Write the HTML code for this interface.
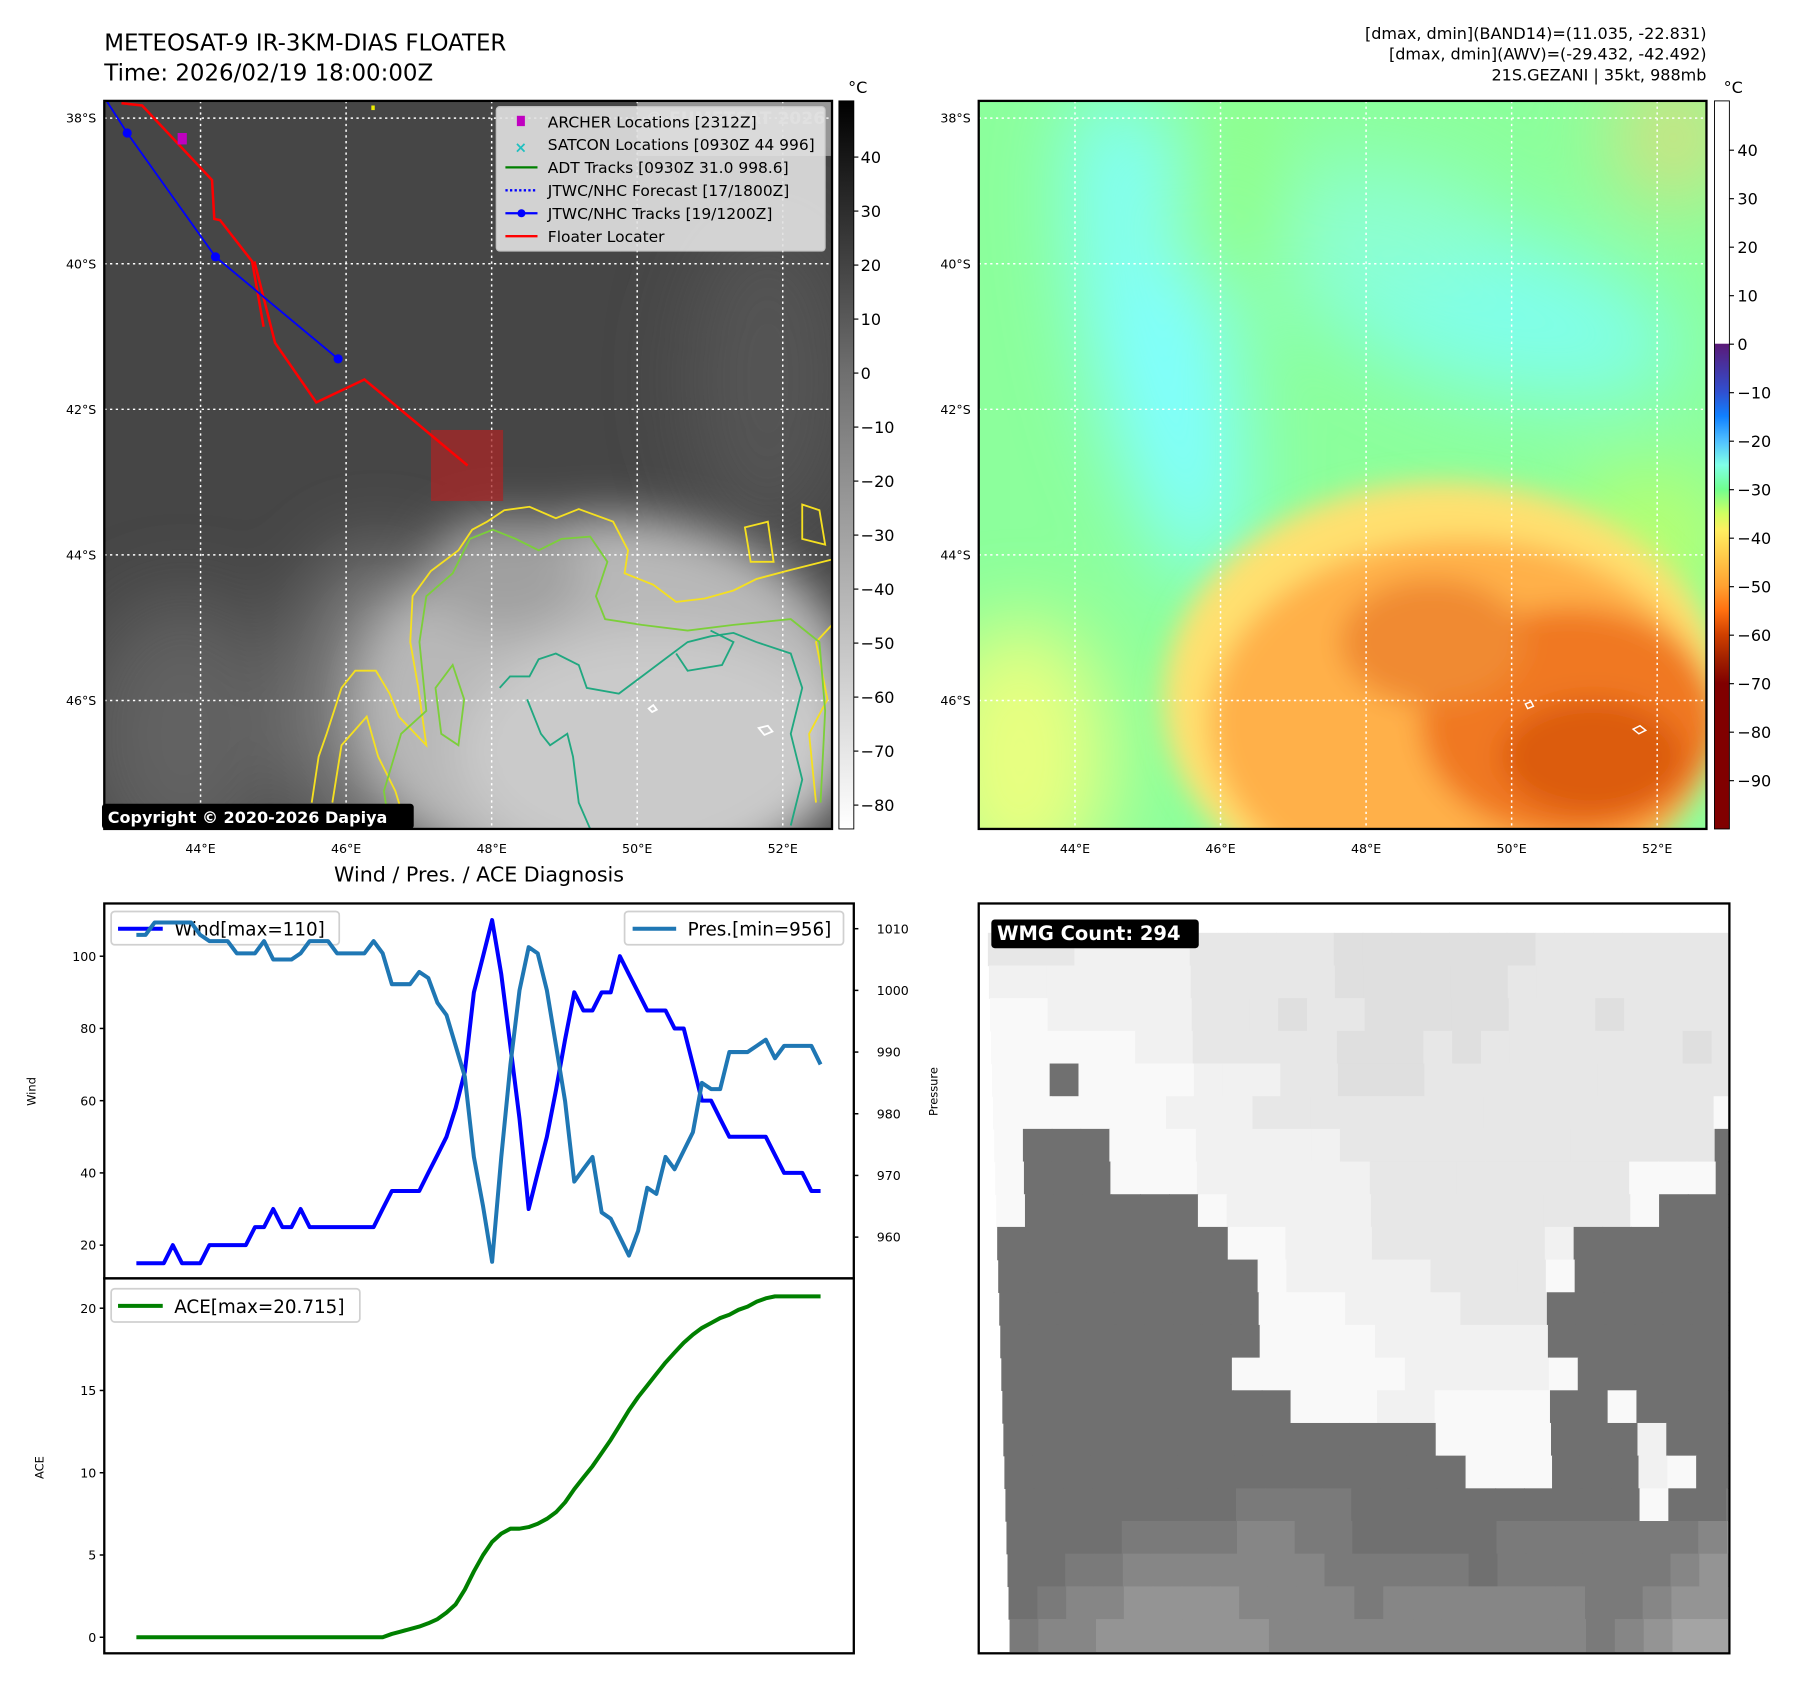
<!DOCTYPE html>
<html><head><meta charset="utf-8"><style>
html,body{margin:0;padding:0;background:#fff;}
svg{display:block;font-family:"DejaVu Sans","Liberation Sans",sans-serif;}
</style></head><body>
<svg id="root" xmlns="http://www.w3.org/2000/svg" width="1797" height="1690" viewBox="0 0 1568 1474" preserveAspectRatio="none">
<defs>
  <filter id="blur12" x="-50%" y="-50%" width="200%" height="200%"><feGaussianBlur stdDeviation="12"/></filter>
  <filter id="blur20" x="-50%" y="-50%" width="200%" height="200%"><feGaussianBlur stdDeviation="20"/></filter>
  <filter id="blur35" x="-50%" y="-50%" width="200%" height="200%"><feGaussianBlur stdDeviation="35"/></filter>
  <clipPath id="c1"><rect x="91" y="88" width="635" height="635"/></clipPath>
  <clipPath id="c2"><rect x="854" y="88" width="635" height="635"/></clipPath>
  <clipPath id="c3"><rect x="855" y="789" width="653" height="652"/></clipPath>
  <linearGradient id="cbGray" x1="0" y1="0" x2="0" y2="1">
    <stop offset="0" stop-color="#000"/><stop offset="0.37" stop-color="#6e6e6e"/><stop offset="1" stop-color="#fff"/>
  </linearGradient>
  <linearGradient id="cbColor" x1="0" y1="0" x2="0" y2="1">
    <stop offset="0" stop-color="#fff"/><stop offset="0.333" stop-color="#fff"/>
    <stop offset="0.334" stop-color="#5a1a78"/><stop offset="0.4" stop-color="#3050d0"/>
    <stop offset="0.433" stop-color="#1080ff"/><stop offset="0.467" stop-color="#50c0ff"/>
    <stop offset="0.5" stop-color="#80ffe8"/><stop offset="0.533" stop-color="#70ff90"/>
    <stop offset="0.567" stop-color="#d0ff60"/><stop offset="0.59" stop-color="#ffee60"/>
    <stop offset="0.667" stop-color="#ffa030"/><stop offset="0.7" stop-color="#ff7010"/>
    <stop offset="0.733" stop-color="#d04000"/><stop offset="0.767" stop-color="#a02000"/>
    <stop offset="0.8" stop-color="#800000"/><stop offset="1" stop-color="#800000"/>
  </linearGradient>
</defs>

<text x="91" y="44" font-size="20">METEOSAT-9 IR-3KM-DIAS FLOATER</text>
<text x="91" y="70" font-size="20">Time: 2026/02/19 18:00:00Z</text>
<g font-size="14" text-anchor="end">
  <text x="1489" y="34">[dmax, dmin](BAND14)=(11.035, -22.831)</text>
  <text x="1489" y="52">[dmax, dmin](AWV)=(-29.432, -42.492)</text>
  <text x="1489" y="70">21S.GEZANI | 35kt, 988mb</text>
</g>

<g clip-path="url(#c1)">
  <rect x="91" y="88" width="635" height="635" fill="#464646"/>
  <g filter="url(#blur35)">
    <ellipse cx="160" cy="640" rx="90" ry="120" fill="#626262"/>
    <ellipse cx="670" cy="330" rx="70" ry="140" fill="#555"/>
    <ellipse cx="330" cy="610" rx="70" ry="130" fill="#848484"/>
  </g>
  <g filter="url(#blur20)">
    <ellipse cx="530" cy="615" rx="220" ry="165" fill="#b8b8b8"/>
    <ellipse cx="570" cy="655" rx="170" ry="105" fill="#cacaca"/>
    <ellipse cx="440" cy="500" rx="70" ry="50" fill="#a0a0a0"/>
  </g>
  <g stroke="#fff" stroke-width="1.3" stroke-dasharray="2,3" fill="none">
    <path d="M175,88V723M302,88V723M429,88V723M556,88V723M683,88V723M91,103H726M91,230H726M91,357H726M91,484H726M91,611H726"/>
  </g>
  <g fill="none" stroke-width="1.6">
    <path stroke="#f5e020" d="M272,700 L278,660 L285,640 L298,600 L310,585 L328,585 L340,605 L348,625 L372,650 L365,600 L358,560 L360,520 L376,498 L400,480 L412,462 L425,455 L440,445 L462,442 L485,452 L505,444 L535,455 L548,480 L545,500 L570,510 L590,525 L615,522 L640,515 L660,505 L690,497 L726,488"/>
    <path stroke="#f5e020" d="M726,545 L712,560 L722,610 L706,640 L712,700 M290,700 L298,650 L320,625 L330,660 L345,690 L355,723 M700,440 L715,445 L720,475 L700,470 Z M650,460 L670,455 L675,490 L655,490 Z"/>
    <path stroke="#7ccf3a" d="M340,723 L335,690 L350,640 L372,620 L366,560 L372,520 L395,500 L410,470 L430,462 L450,470 L470,480 L490,470 L515,468 L530,490 L520,520 L528,540 L560,545 L600,550 L640,545 L690,540 L715,560 L720,620 L716,700 M380,600 L395,580 L405,610 L400,650 L385,640 Z"/>
    <path stroke="#20a880" d="M436,600 L445,590 L462,590 L470,575 L485,570 L505,580 L512,600 L540,605 L560,590 L580,575 L600,560 L620,555 L640,552 L660,560 L690,570 L700,600 L690,640 L700,680 L690,720 M460,610 L472,640 L480,650 L495,640 L500,660 L505,700 L515,723 M590,570 L600,585 L630,580 L640,560 L620,550"/>
    <path stroke="#fff" d="M566,618 l4,-3 l3,4 l-4,2 Z M662,635 l8,-2 l4,5 l-7,3 Z"/>
  </g>
  <rect x="556" y="88" width="170" height="48" fill="#e8e8e8" opacity="0.5"/>
  <text x="720" y="108" font-size="15" font-weight="bold" fill="#cfcfcf" text-anchor="end">© EUMETSAT 2026</text>
  <rect x="376" y="375" width="63" height="62" fill="#a82525" opacity="0.75"/>
  <path fill="none" stroke="#ff0000" stroke-width="2.2" d="M106,90 L124,92 L185,157 L187,191 L192,192 L220,228 L230,285 M222,228 L240,299 L276,351 L318,331 L408,406"/>
  <path fill="none" stroke="#0000ff" stroke-width="1.6" d="M93,88 L111,116 L188,224 L295,313"/>
  <circle cx="111" cy="116" r="4" fill="#0000ff"/><circle cx="188" cy="224" r="4" fill="#0000ff"/><circle cx="295" cy="313" r="4" fill="#0000ff"/>
  <rect x="155" y="116" width="8" height="10" fill="#c000c0"/>
  <rect x="324" y="92" width="3" height="4" fill="#ee0"/>
</g>
<rect x="91" y="88" width="635" height="635" fill="none" stroke="#000" stroke-width="2"/>
<g>
  <rect x="433" y="93" width="287" height="126" rx="3" fill="#e2e2e2" opacity="0.9" stroke="#ccc"/>
  <rect x="451" y="101" width="7" height="9" fill="#c000c0"/>
  <text x="449" y="133" font-size="13" font-weight="bold" fill="#20c0c0">×</text>
  <line x1="441" y1="146" x2="469" y2="146" stroke="#008000" stroke-width="2"/>
  <line x1="441" y1="166" x2="469" y2="166" stroke="#0000ff" stroke-width="2" stroke-dasharray="2,2"/>
  <line x1="441" y1="186" x2="469" y2="186" stroke="#0000ff" stroke-width="2"/><circle cx="455" cy="186" r="3.5" fill="#0000ff"/>
  <line x1="441" y1="206" x2="469" y2="206" stroke="#ff0000" stroke-width="2"/>
  <g font-size="13.5">
    <text x="478" y="111">ARCHER Locations [2312Z]</text>
    <text x="478" y="131">SATCON Locations [0930Z 44 996]</text>
    <text x="478" y="151">ADT Tracks [0930Z 31.0 998.6]</text>
    <text x="478" y="171">JTWC/NHC Forecast [17/1800Z]</text>
    <text x="478" y="191">JTWC/NHC Tracks [19/1200Z]</text>
    <text x="478" y="211">Floater Locater</text>
  </g>
</g>
<g>
  <rect x="89" y="701" width="272" height="22" rx="3" fill="#000"/>
  <text x="94" y="718" font-size="14" font-weight="bold" fill="#fff">Copyright © 2020-2026 Dapiya</text>
</g>
<rect x="732" y="88" width="13" height="635" fill="url(#cbGray)" stroke="#000" stroke-width="0.8"/>
<text x="740" y="81" font-size="14">°C</text>
<g id="cb1ticks" font-size="14"></g>

<g clip-path="url(#c2)">
  <rect x="854" y="88" width="635" height="635" fill="#8cff9c"/>
  <g filter="url(#blur35)">
    <ellipse cx="1010" cy="290" rx="60" ry="220" fill="#80ffff" transform="rotate(-12 1010 290)"/>
    <ellipse cx="1300" cy="270" rx="170" ry="70" fill="#80ffe8" transform="rotate(15 1300 270)"/>
    <ellipse cx="1150" cy="200" rx="160" ry="60" fill="#8cffd0"/>
    <ellipse cx="1080" cy="170" rx="50" ry="100" fill="#90ff88"/>
    <ellipse cx="890" cy="660" rx="80" ry="120" fill="#e8ff80"/>
    <ellipse cx="1460" cy="120" rx="50" ry="60" fill="#d0e080"/>
    <ellipse cx="1440" cy="470" rx="70" ry="60" fill="#b8ff70"/>
  </g>
  <g filter="url(#blur12)">
    <ellipse cx="1260" cy="610" rx="245" ry="190" fill="#ffe070"/>
    <ellipse cx="1275" cy="630" rx="220" ry="160" fill="#ffb048"/>
    <ellipse cx="1370" cy="630" rx="130" ry="100" fill="#f07820"/>
    <ellipse cx="1250" cy="560" rx="80" ry="55" fill="#f08a30"/>
    <ellipse cx="1390" cy="660" rx="80" ry="50" fill="#dc5c08"/>
  </g>
  <g stroke="#fff" stroke-width="1.3" stroke-dasharray="2,3" fill="none">
    <path d="M938,88V723M1065,88V723M1192,88V723M1319,88V723M1446,88V723M854,103H1489M854,230H1489M854,357H1489M854,484H1489M854,611H1489"/>
  </g>
  <path fill="none" stroke="#fff" stroke-width="1.3" d="M1331,614 l5,-2 l2,4 l-5,2 Z M1425,636 l6,-3 l5,4 l-6,3 Z"/>
</g>
<rect x="854" y="88" width="635" height="635" fill="none" stroke="#000" stroke-width="2"/>
<rect x="1496" y="88" width="13" height="635" fill="url(#cbColor)" stroke="#000" stroke-width="0.8"/>
<text x="1504" y="81" font-size="14">°C</text>
<g id="cb2ticks" font-size="14"></g>
<g id="geoLabels" font-size="11"></g>

<text x="418" y="769" font-size="18" text-anchor="middle">Wind / Pres. / ACE Diagnosis</text>
<g id="windPanel"></g>
<g id="acePanel"></g>

<g>
  <rect x="854" y="788" width="655" height="654" fill="#fff"/>
  <g id="wmgCells" clip-path="url(#c3)"></g>
  <rect x="854" y="788" width="655" height="654" fill="none" stroke="#000" stroke-width="2"/>
  <rect x="865" y="802" width="181" height="25" rx="3" fill="#000"/>
  <text x="870" y="820" font-size="17" font-weight="bold" fill="#fff">WMG Count: 294</text>
</g>
</svg>

<script>
const windValues=[15,15,15,15,20,15,15,15,20,20,20,20,20,25,25,30,25,25,30,25,25,25,25,25,25,25,25,30,35,35,35,35,40,45,50,58,68,90,100,110,95,75,55,30,40,50,63,77,90,85,85,90,90,100,95,90,85,85,85,80,80,70,60,60,55,50,50,50,50,50,45,40,40,40,35,35];
const presValues=[1009,1009,1011,1011,1011,1011,1011,1009,1008,1008,1008,1006,1006,1006,1008,1005,1005,1005,1006,1008,1008,1008,1006,1006,1006,1006,1008,1006,1001,1001,1001,1003,1002,998,996,991,986,973,965,956,973,988,1000,1007,1006,1000,991,982,969,971,973,964,963,960,957,961,968,967,973,971,974,977,985,984,984,990,990,990,991,992,989,991,991,991,991,988];
const aceValues=[0,0,0,0,0,0,0,0,0,0,0,0,0,0,0,0,0,0,0,0,0,0,0,0,0,0,0,0,0.2,0.35,0.5,0.65,0.85,1.1,1.5,2.0,2.9,4.0,5.0,5.8,6.3,6.6,6.6,6.7,6.9,7.2,7.6,8.2,9.0,9.7,10.4,11.2,12.0,12.9,13.8,14.6,15.3,16.0,16.7,17.3,17.9,18.4,18.8,19.1,19.4,19.6,19.9,20.1,20.4,20.6,20.715,20.715,20.715,20.715,20.715,20.715];
const windTicks=[20,40,60,80,100];
const presTicks=[960,970,980,990,1000,1010];
const aceTicks=[0,5,10,15,20];
const irCbTicks=[40,30,20,10,0,-10,-20,-30,-40,-50,-60,-70,-80];
const awvCbTicks=[40,30,20,10,0,-10,-20,-30,-40,-50,-60,-70,-80,-90];
const latLabels=["38°S","40°S","42°S","44°S","46°S"];
const lonLabels=["44°E","46°E","48°E","50°E","52°E"];
const wmgRows=[
"mmmllllmmmmmnnnnnnnmmmmmmm",
"lllllllmmmmmnnnnnnmmmmmmmm",
"wwlllllmmmnmmnnnnnmmmnmmmm",
"wwwwwllmmmmmnnnmnmmmmmmmnm",
"wwdwwwwlllmmnnnmmmmmmmmmmm",
"wwwwwwlllmmmmmmmmmmmmmmmmw",
"wdddwwwlllllmmmmmmmmmmmmmd",
"wdddwwwllllllmmmmmmmmmwwwd",
"wddddddwlllllmmmmmmmmmwddd",
"ddddddddwwlllmmmmmmldddddd",
"dddddddddwlllllmmmmwdddddd",
"dddddddddwwwllllmmmddddddd",
"dddddddddwwwwllllllddddddd",
"ddddddddwwwwwwlllllwdddddd",
"ddddddddddwwwllwwwwddwdddd",
"dddddddddddddddwwwwdddlddd",
"ddddddddddddddddwwwdddlwdd",
"dddddddd7777ddddddddddwdd7",
"dddd77778877ddddd777777789",
"dd77888888877777d777777899",
"d788999988887888888877899a",
"78899999988888888888789aaa"];
const wmgColors={w:"#f9f9f9",l:"#f1f1f1",m:"#e7e7e7",n:"#dfdfdf",d:"#707070","7":"#7a7a7a","8":"#868686","9":"#949494",a:"#a4a4a4"};

const NS="http://www.w3.org/2000/svg";
function mk(tag,attrs,parent){const e=document.createElementNS(NS,tag);for(const k in attrs)e.setAttribute(k,attrs[k]);parent.appendChild(e);return e;}

const cb1=document.getElementById('cb1ticks');
irCbTicks.forEach(v=>{const y=137+(40-v)*4.71;
  mk('line',{x1:745,y1:y,x2:749,y2:y,stroke:'#000'},cb1);
  const t=mk('text',{x:751,y:y+5},cb1);t.textContent=(v<0?'\u2212'+(-v):v);
  
  });
const cb2=document.getElementById('cb2ticks');
awvCbTicks.forEach(v=>{const y=131+(40-v)*4.23;
  mk('line',{x1:1509,y1:y,x2:1513,y2:y,stroke:'#000'},cb2);
  const t=mk('text',{x:1516,y:y+5},cb2);t.textContent=(v<0?'\u2212'+(-v):v);
  
  });

const gl=document.getElementById('geoLabels');
latLabels.forEach((s,i)=>{const y=103+127*i;
  [84,847].forEach(x=>{const t=mk('text',{x:x,y:y+4,'text-anchor':'end'},gl);t.textContent=s;
  
  });});
lonLabels.forEach((s,i)=>{[175,938].forEach(x0=>{const t=mk('text',{x:x0+127*i,y:744,'text-anchor':'middle'},gl);t.textContent=s;
  
  });});

const X0=119,X1=716,N=windValues.length;
function xAt(i){return X0+i*(X1-X0)/(N-1);}
function yWind(v){return 1086-(v-20)*3.15;}
function yPres(v){return 1079-(v-960)*5.38;}
function yAce(v){return 1428-v*14.35;}

const wp=document.getElementById('windPanel');
mk('rect',{x:91,y:788,width:654,height:327,fill:'#fff'},wp);
windTicks.forEach(v=>{const y=yWind(v);mk('line',{x1:87,y1:y,x2:91,y2:y,stroke:'#000','stroke-width':1.3},wp);
  const t=mk('text',{x:84,y:y+4,'font-size':11,'text-anchor':'end'},wp);t.textContent=v;
  
  });
presTicks.forEach(v=>{const y=yPres(v);mk('line',{x1:745,y1:y,x2:749,y2:y,stroke:'#000','stroke-width':1.3},wp);
  const t=mk('text',{x:765,y:y+4,'font-size':11},wp);t.textContent=v;
  
  });
let yl=mk('text',{x:31,y:952,'font-size':10,'text-anchor':'middle',transform:'rotate(-90 31 952)'},wp);yl.textContent='Wind';


yl=mk('text',{x:818,y:952,'font-size':10,'text-anchor':'middle',transform:'rotate(-90 818 952)'},wp);yl.textContent='Pressure';


const wl=mk('g',{},wp);


mk('rect',{x:97,y:795,width:199,height:29,rx:3,fill:'#fff',stroke:'#d0d0d0','stroke-width':1.5},wl);
mk('line',{x1:103,y1:810,x2:142,y2:810,stroke:'#0000ff','stroke-width':3.5},wl);
let tt=mk('text',{x:152,y:816,'font-size':16},wl);tt.textContent='Wind[max=110]';
let d='';windValues.forEach((v,i)=>{d+=(i?'L':'M')+xAt(i).toFixed(1)+','+yWind(v).toFixed(1);});
const wline=mk('path',{d:d,fill:'none',stroke:'#0000ff','stroke-width':3.5,'stroke-linejoin':'round'},wp);


d='';presValues.forEach((v,i)=>{d+=(i?'L':'M')+xAt(i).toFixed(1)+','+yPres(v).toFixed(1);});
const pline=mk('path',{d:d,fill:'none',stroke:'#1f77b4','stroke-width':3.5,'stroke-linejoin':'round'},wp);


const pl=mk('g',{},wp);


mk('rect',{x:545,y:795,width:191,height:29,rx:3,fill:'#fff',stroke:'#d0d0d0','stroke-width':1.5},pl);
mk('line',{x1:552,y1:810,x2:590,y2:810,stroke:'#1f77b4','stroke-width':3.5},pl);
tt=mk('text',{x:600,y:816,'font-size':16},pl);tt.textContent='Pres.[min=956]';
mk('rect',{x:91,y:788,width:654,height:327,fill:'none',stroke:'#000','stroke-width':2},wp);

const ap=document.getElementById('acePanel');
aceTicks.forEach(v=>{const y=yAce(v);mk('line',{x1:87,y1:y,x2:91,y2:y,stroke:'#000','stroke-width':1.3},ap);
  const t=mk('text',{x:84,y:y+4,'font-size':11,'text-anchor':'end'},ap);t.textContent=v;
  
  });
yl=mk('text',{x:38,y:1280,'font-size':10,'text-anchor':'middle',transform:'rotate(-90 38 1280)'},ap);yl.textContent='ACE';


d='';aceValues.forEach((v,i)=>{d+=(i?'L':'M')+xAt(i).toFixed(1)+','+yAce(v).toFixed(1);});
const aline=mk('path',{d:d,fill:'none',stroke:'#008000','stroke-width':3.5,'stroke-linejoin':'round'},ap);


const al=mk('g',{},ap);


mk('rect',{x:97,y:1124,width:217,height:29,rx:3,fill:'#fff',stroke:'#d0d0d0','stroke-width':1.5},al);
mk('line',{x1:103,y1:1139,x2:142,y2:1139,stroke:'#008000','stroke-width':3.5},al);
tt=mk('text',{x:152,y:1145,'font-size':16},al);tt.textContent='ACE[max=20.715]';
mk('rect',{x:91,y:1115,width:654,height:327,fill:'none',stroke:'#000','stroke-width':2},ap);

const wg=document.getElementById('wmgCells');
const CW=25.15,RH=28.5;
wmgRows.forEach((row,r)=>{const x0=862+r*0.9;const y=813.6+r*RH;
  for(let c=0;c<row.length;c++){const cell=mk('rect',{x:(x0+c*CW).toFixed(2),y:y.toFixed(2),width:(CW+0.6).toFixed(2),height:(RH+0.6).toFixed(2),fill:wmgColors[row[c]]},wg);
  
  }});
</script>
</body></html>
